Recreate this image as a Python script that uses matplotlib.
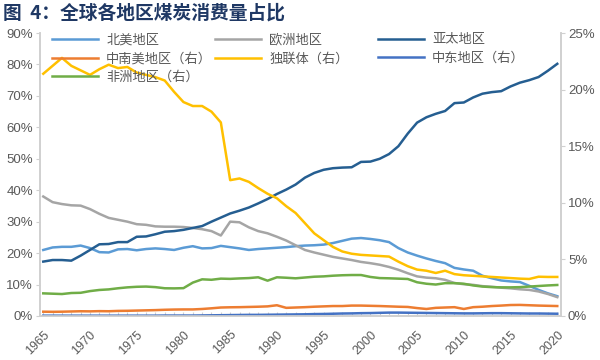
import matplotlib
matplotlib.use("Agg")
import matplotlib.pyplot as plt
from matplotlib.lines import Line2D

plt.rcParams['font.family'] = ['Liberation Sans', 'Noto Sans CJK SC', 'DejaVu Sans']

years = list(range(1965, 2021))

# 左轴 (%)
north_america = [21.0, 21.8, 22.0, 22.0, 22.4, 21.6, 20.3, 20.2, 21.2, 21.3,
                 20.9, 21.3, 21.5, 21.3, 21.0, 21.7, 22.2, 21.5, 21.6, 22.3,
                 21.9, 21.5, 21.0, 21.3, 21.5, 21.7, 21.9, 22.2, 22.4, 22.5,
                 22.7, 23.2, 23.9, 24.6, 24.8, 24.5, 24.1, 23.5, 21.6, 20.2,
                 19.2, 18.3, 17.5, 16.8, 15.3, 14.8, 14.4, 12.8, 12.0, 11.3,
                 11.0, 10.8, 9.6, 8.3, 7.2, 6.3]
europe = [38.0, 36.2, 35.6, 35.2, 35.1, 34.0, 32.5, 31.2, 30.6, 30.0,
          29.2, 29.0, 28.5, 28.4, 28.4, 28.3, 28.0, 27.6, 27.0, 25.6,
          30.0, 29.8, 28.2, 27.0, 26.3, 25.2, 24.0, 22.5, 21.0, 20.2,
          19.5, 18.8, 18.3, 17.8, 17.2, 16.8, 16.3, 15.6, 14.7, 13.6,
          12.6, 12.2, 12.0, 11.5, 10.5, 10.1, 9.9, 9.5, 9.3, 9.0,
          8.8, 8.5, 8.3, 7.8, 7.0, 6.0]
asia_pacific = [17.3, 17.8, 17.8, 17.6, 19.2, 21.0, 22.8, 22.9, 23.5, 23.5,
                25.2, 25.3, 26.0, 26.8, 27.0, 27.4, 28.0, 28.6, 30.0, 31.3,
                32.6, 33.5, 34.5, 35.8, 37.2, 38.8, 40.2, 41.8, 44.0, 45.5,
                46.5, 47.0, 47.2, 47.3, 49.0, 49.1, 50.0, 51.5, 54.0, 58.0,
                61.5, 63.2, 64.3, 65.2, 67.7, 67.9, 69.5, 70.7, 71.2, 71.5,
                73.0, 74.2, 75.0, 76.0, 78.0, 80.2]

# 右轴 (%)
south_central_america = [0.38, 0.37, 0.38, 0.40, 0.42, 0.41, 0.43, 0.42, 0.45, 0.46,
                         0.48, 0.50, 0.52, 0.55, 0.57, 0.58, 0.58, 0.62, 0.68, 0.75,
                         0.77, 0.78, 0.80, 0.82, 0.85, 0.95, 0.72, 0.75, 0.78, 0.82,
                         0.85, 0.88, 0.88, 0.92, 0.92, 0.90, 0.88, 0.85, 0.82, 0.80,
                         0.70, 0.62, 0.72, 0.75, 0.78, 0.62, 0.78, 0.82, 0.88, 0.92,
                         0.97, 0.98, 0.95, 0.92, 0.90, 0.88]
cis = [21.4, 22.1, 22.8, 22.1, 21.7, 21.3, 21.8, 22.2, 21.9, 22.0,
       21.5, 21.3, 21.1, 20.8, 19.8, 18.9, 18.55, 18.55, 18.05, 17.1,
       12.0, 12.15, 11.85, 11.3, 10.8, 10.4, 9.7, 9.1, 8.2, 7.3,
       6.7, 6.1, 5.7, 5.5, 5.4, 5.35, 5.3, 5.25, 4.8, 4.4,
       4.1, 4.0, 3.8, 4.0, 3.7, 3.6, 3.55, 3.5, 3.45, 3.4,
       3.35, 3.3, 3.27, 3.47, 3.45, 3.45]
middle_east = [0.03, 0.03, 0.03, 0.03, 0.03, 0.03, 0.03, 0.03, 0.03, 0.03,
               0.03, 0.03, 0.03, 0.04, 0.04, 0.04, 0.04, 0.05, 0.06, 0.07,
               0.08, 0.09, 0.10, 0.10, 0.11, 0.12, 0.13, 0.14, 0.15, 0.17,
               0.18, 0.20, 0.22, 0.23, 0.25, 0.26, 0.28, 0.30, 0.30, 0.29,
               0.28, 0.27, 0.26, 0.25, 0.24, 0.23, 0.23, 0.24, 0.25, 0.25,
               0.24, 0.23, 0.22, 0.22, 0.21, 0.20]
africa = [2.0, 1.97, 1.94, 2.03, 2.05, 2.2, 2.3, 2.35, 2.45, 2.53,
          2.58, 2.6, 2.55, 2.45, 2.44, 2.46, 2.95, 3.24, 3.2, 3.3,
          3.28, 3.32, 3.35, 3.42, 3.12, 3.42, 3.38, 3.33, 3.4, 3.47,
          3.5, 3.56, 3.6, 3.62, 3.62, 3.45, 3.35, 3.33, 3.3, 3.27,
          2.98, 2.85, 2.78, 2.9, 2.9, 2.85, 2.7, 2.6, 2.55, 2.53,
          2.53, 2.55, 2.6, 2.65, 2.7, 2.74]

fig = plt.figure(figsize=(6, 3.6), dpi=100)
ax = fig.add_axes([40 / 600, 44 / 360, 521 / 600, 283 / 360])
ax2 = ax.twinx()

lw = 1.8
ax.plot(years, north_america, color='#5B9BD5', lw=lw)
ax.plot(years, europe, color='#A5A5A5', lw=lw)
ax.plot(years, asia_pacific, color='#255E91', lw=lw)
ax2.plot(years, south_central_america, color='#ED7D31', lw=lw)
ax2.plot(years, cis, color='#FFC000', lw=lw)
ax2.plot(years, middle_east, color='#4472C4', lw=lw)
ax2.plot(years, africa, color='#70AD47', lw=lw)

ax.set_xlim(1964.65, 2020.4)
ax.set_ylim(0, 90)
ax2.set_ylim(0, 25)
ax.set_yticks(range(0, 91, 10))
ax.set_yticklabels([f'{v}%' for v in range(0, 91, 10)])
ax2.set_yticks(range(0, 26, 5))
ax2.set_yticklabels([f'{v}%' for v in range(0, 26, 5)])
ax.set_xticks(years)
ax.set_xticklabels([str(y) if y % 5 == 0 else '' for y in years],
                   rotation=45, ha='right', va='top', rotation_mode='anchor')

for a in (ax, ax2):
    a.spines['top'].set_visible(False)
    for s in ('left', 'right', 'bottom'):
        a.spines[s].set_color('#D0D0D0')
        a.spines[s].set_linewidth(1.2)
ax.tick_params(axis='y', colors='#D0D0D0', labelcolor='#595959', labelsize=9.5,
               length=3, direction='out', pad=2)
ax2.tick_params(axis='y', colors='#D0D0D0', labelcolor='#595959', labelsize=9.5,
                length=3, direction='out', pad=2)
ax.tick_params(axis='x', colors='#D0D0D0', labelcolor='#595959', labelsize=9,
               length=3, direction='in', pad=9)

# 图例：三列
cols = [
    ([('#5B9BD5', '北美地区'), ('#ED7D31', '中南美地区（右）'), ('#70AD47', '非洲地区（右）')], 52),
    ([('#A5A5A5', '欧洲地区'), ('#FFC000', '独联体（右）')], 215),
    ([('#255E91', '亚太地区'), ('#4472C4', '中东地区（右）')], 378),
]
for entries, x0 in cols:
    handles = [Line2D([], [], color=c, lw=lw) for c, _ in entries]
    labels = [t for _, t in entries]
    leg = fig.legend(handles, labels, loc='upper left',
                     bbox_to_anchor=(x0 / 600, 1 - 34 / 360),
                     frameon=False, fontsize=9.5, handlelength=3.5,
                     handletextpad=0.6, labelspacing=0.45,
                     borderpad=0, borderaxespad=0)
    for t in leg.get_texts():
        t.set_color('#595959')

fig.text(0.005, 1 - 13 / 360, '图  4：全球各地区煤炭消费量占比', fontsize=13.5,
         fontweight='bold', color='#1F3864', va='center', ha='left',
         family=['Noto Sans CJK SC', 'DejaVu Sans'])

fig.savefig('out.png', dpi=100)
